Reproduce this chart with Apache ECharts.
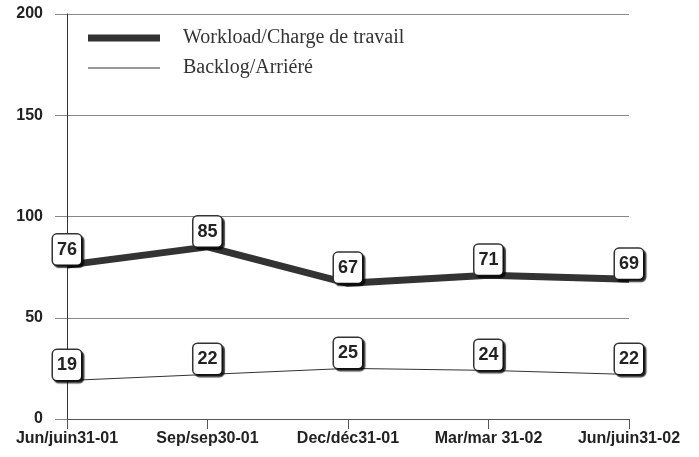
<!DOCTYPE html>
<html>
<head>
<meta charset="utf-8">
<script src="https://cdn.jsdelivr.net/npm/echarts@6/dist/echarts.min.js"></script>
<style>
  html, body { margin: 0; padding: 0; background: #fff; }
  #main { width: 699px; height: 457px; }
</style>
</head>
<body>
<div id="main"></div>
<script>
var categories = ["Jun/juin31-01", "Sep/sep30-01", "Dec/déc31-01", "Mar/mar 31-02", "Jun/juin31-02"];
var workload = [76, 85, 67, 71, 69];
var backlog = [19, 22, 25, 24, 22];
var yTicks = [0, 50, 100, 150, 200];

// boîte d'étiquette commune
var boxLabel = {
    show: true,
    position: "top",
    distance: 0,
    fontFamily: "Liberation Sans",
    fontWeight: "bold",
    fontSize: 18,
    lineHeight: 21,
    color: "#222",
    backgroundColor: "#fff",
    borderColor: "#333",
    borderWidth: 1.5,
    borderRadius: 4,
    padding: [5, 4, 4, 4],
    shadowColor: "rgba(0,0,0,0.7)",
    shadowOffsetX: 2,
    shadowOffsetY: 2,
    shadowBlur: 1
};

var myChart = echarts.init(document.getElementById("main"));
var option = {
    animation: false,
    backgroundColor: "#fff",
    grid: { left: 67, right: 70, top: 14, bottom: 38 },
    legend: {
        orient: "vertical",
        left: 83,
        top: 22,
        itemWidth: 72,
        itemHeight: 16,
        itemGap: 8,
        textStyle: { fontFamily: "Liberation Serif", fontSize: 20, lineHeight: 22, color: "#333", padding: [0, 0, 0, 18] },
        data: [
            { name: "Workload/Charge de travail", icon: "path://M0,0 L72,0 L72,7 L0,7 Z", itemStyle: { color: "#333" } },
            { name: "Backlog/Arriéré", icon: "path://M0,0 L72,0 L72,1 L0,1 Z", itemStyle: { color: "#333" } }
        ]
    },
    xAxis: {
        type: "category",
        boundaryGap: false,
        data: categories,
        axisLine: { lineStyle: { color: "#555", width: 1 } },
        axisTick: { show: true, length: 10, lineStyle: { color: "#555" } },
        axisLabel: { fontFamily: "Liberation Sans", fontWeight: "bold", fontSize: 16, color: "#222", margin: 12 }
    },
    yAxis: {
        type: "value",
        min: 0,
        max: 200,
        interval: 50,
        axisLine: { show: true, lineStyle: { color: "#333", width: 1 } },
        axisTick: { show: true, length: 12, lineStyle: { color: "#888" } },
        axisLabel: {
            fontFamily: "Liberation Sans", fontWeight: "bold", fontSize: 16, color: "#222", margin: 24,
            formatter: function (v) { return yTicks.indexOf(v) >= 0 ? String(v) : ""; }
        },
        splitLine: { lineStyle: { color: "#888", width: 1 } }
    },
    series: [
        {
            name: "Workload/Charge de travail",
            type: "line",
            data: workload,
            symbol: "circle",
            symbolSize: 1,
            itemStyle: { color: "#333" },
            lineStyle: { color: "#333", width: 7 },
            label: boxLabel,
            z: 3
        },
        {
            name: "Backlog/Arriéré",
            type: "line",
            data: backlog,
            symbol: "circle",
            symbolSize: 1,
            itemStyle: { color: "#333" },
            lineStyle: { color: "#333", width: 1 },
            label: boxLabel,
            z: 3
        }
    ]
};
myChart.setOption(option);
</script>
</body>
</html>
